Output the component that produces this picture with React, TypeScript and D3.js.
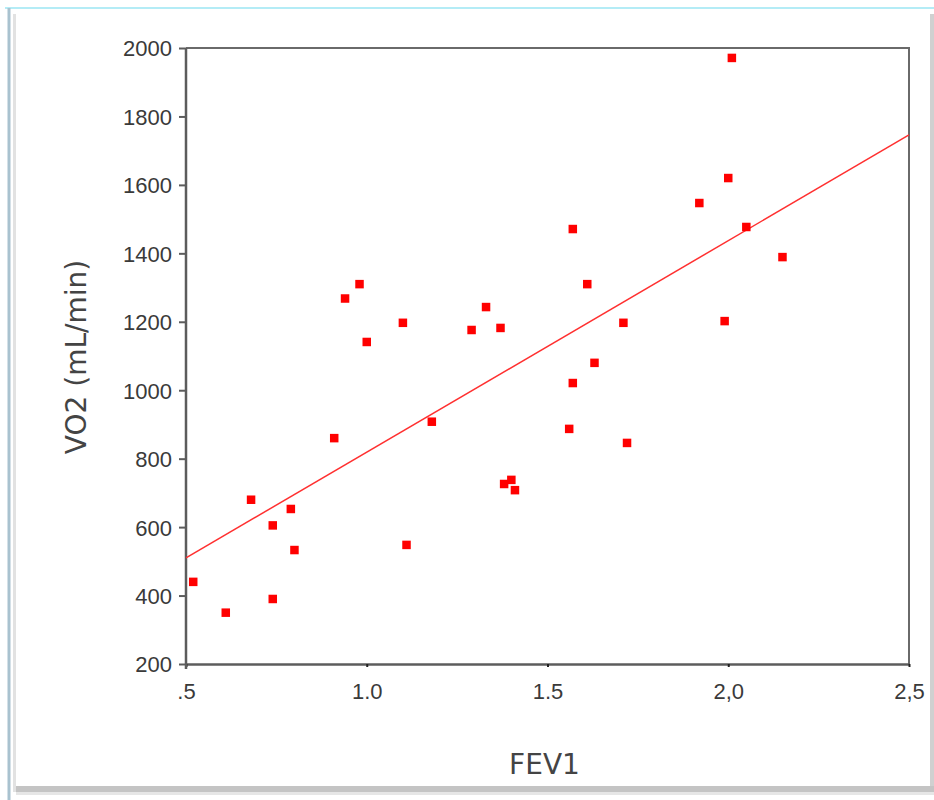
import React, { useEffect, useRef } from 'react';
import * as d3 from 'd3';

// FEV1 (x) and VO2 in mL/min (y)
const fev1 = [0.52, 0.61, 0.68, 0.74, 0.74, 0.79, 0.8, 0.91, 0.94, 0.98, 1.0, 1.1, 1.11, 1.18, 1.29, 1.33, 1.37, 1.38, 1.4, 1.41,
  1.56, 1.57, 1.57, 1.61, 1.63, 1.71, 1.72, 1.92, 1.99, 2.0, 2.01, 2.05, 2.15];
const vo2 = [440, 350, 680, 605, 390, 653, 533, 860, 1268, 1310, 1141, 1197, 548, 908, 1176, 1243, 1182, 726, 738, 708,
  887, 1471, 1021, 1310, 1080, 1197, 846, 1547, 1202, 1620, 1971, 1477, 1389];

const xTicks = [0.5, 1.0, 1.5, 2.0, 2.5];
const xTickLabels = ['.5', '1.0', '1.5', '2,0', '2,5'];
const yTicks = [200, 400, 600, 800, 1000, 1200, 1400, 1600, 1800, 2000];

// fitted line VO2 = a + b * FEV1
const fitIntercept = 201;
const fitSlope = 618;

const App = () => {
  const svgRef = useRef(null);

  useEffect(() => {
    const svg = d3.select(svgRef.current);
    svg.selectAll('*').remove();

    const W = 934;
    const H = 800;
    const margin = { top: 48, right: 25, bottom: 136, left: 186 };
    const width = W - margin.left - margin.right;
    const height = H - margin.top - margin.bottom;

    svg.attr('width', W).attr('height', H);

    // window chrome around the chart
    svg.append('rect').attr('width', W).attr('height', H).attr('fill', '#ffffff');
    svg.append('rect').attr('x', 930).attr('y', 14).attr('width', 4).attr('height', 780).attr('fill', '#d0d0d0');
    svg.append('rect').attr('x', 16).attr('y', 786).attr('width', 918).attr('height', 6).attr('fill', '#c4c4c4');
    svg.append('rect').attr('x', 16).attr('y', 792).attr('width', 918).attr('height', 3).attr('fill', '#e6e6e6');
    svg.append('rect').attr('x', 13).attr('y', 14).attr('width', 3).attr('height', 778).attr('fill', '#e2e2e2');
    svg.append('line').attr('x1', 5).attr('x2', W).attr('y1', 8).attr('y2', 8)
      .attr('stroke', '#b4ecf6').attr('stroke-width', 2);
    svg.append('line').attr('x1', 9).attr('x2', 9).attr('y1', 8).attr('y2', H)
      .attr('stroke', '#a9c2cf').attr('stroke-width', 3);

    const xScale = d3.scaleLinear().domain([0.5, 2.5]).range([0, width]);
    const yScale = d3.scaleLinear().domain([200, 2000]).range([height, 0]);

    const g = svg.append('g').attr('transform', `translate(${margin.left},${margin.top})`);

    const axisColor = '#5c5c5c';
    const textColor = '#3a3a3a';
    const font = '"DejaVu Sans", Verdana, sans-serif';
    const tickFont = '"Liberation Sans", Arial, sans-serif';

    // frame top + right
    g.append('path')
      .attr('d', `M0,0H${width}V${height}`)
      .attr('fill', 'none')
      .attr('stroke', '#6a6a6a')
      .attr('stroke-width', 2);

    // x axis
    const xAxis = g.append('g')
      .attr('transform', `translate(0,${height})`)
      .call(d3.axisBottom(xScale).tickValues(xTicks).tickSize(3).tickSizeOuter(0)
        .tickFormat((d, i) => xTickLabels[i]));
    xAxis.select('.domain').attr('stroke', axisColor).attr('stroke-width', 2.5);
    xAxis.selectAll('line').attr('stroke', '#222').attr('stroke-width', 2);
    xAxis.selectAll('text')
      .attr('y', 0)
      .attr('dy', 35)
      .attr('fill', textColor)
      .style('font-family', tickFont)
      .style('font-size', '22px');

    // y axis
    const yAxis = g.append('g')
      .call(d3.axisLeft(yScale).tickValues(yTicks).tickSize(7).tickSizeOuter(0)
        .tickFormat(d3.format('d')));
    yAxis.select('.domain').attr('stroke', axisColor).attr('stroke-width', 2.5)
      .attr('d', `M0,0V${height + 5}`);
    yAxis.selectAll('line').attr('stroke', axisColor).attr('stroke-width', 2);
    yAxis.selectAll('text')
      .attr('x', -14)
      .attr('dy', '0.36em')
      .attr('fill', textColor)
      .style('font-family', tickFont)
      .style('font-size', '22px');

    // axis titles
    svg.append('text')
      .attr('transform', `translate(86,${margin.top + height / 2 + 1}) rotate(-90)`)
      .attr('text-anchor', 'middle')
      .attr('fill', '#444')
      .style('font-family', font)
      .style('font-size', '28px')
      .text('VO2 (mL/min)');

    svg.append('text')
      .attr('x', margin.left + width / 2 - 3)
      .attr('y', 774)
      .attr('text-anchor', 'middle')
      .attr('fill', '#444')
      .style('font-family', font)
      .style('font-size', '28px')
      .text('FEV1');

    // fit line
    const lineGenerator = d3.line()
      .x((d) => xScale(d))
      .y((d) => yScale(fitIntercept + fitSlope * d));
    g.append('path')
      .datum(xScale.domain())
      .attr('fill', 'none')
      .attr('stroke', '#ff3030')
      .attr('stroke-width', 1.5)
      .attr('d', lineGenerator);

    // points as red squares
    const size = 8.5;
    g.selectAll('.dot')
      .data(fev1)
      .enter()
      .append('rect')
      .attr('class', 'dot')
      .attr('x', (d) => xScale(d) - size / 2)
      .attr('y', (d, i) => yScale(vo2[i]) - size / 2)
      .attr('width', size)
      .attr('height', size)
      .style('fill', '#ff0000');
  }, []);

  return (
    <svg ref={svgRef} style={{ position: 'absolute', left: 0, top: 0, display: 'block' }}></svg>
  );
};

export default App;
